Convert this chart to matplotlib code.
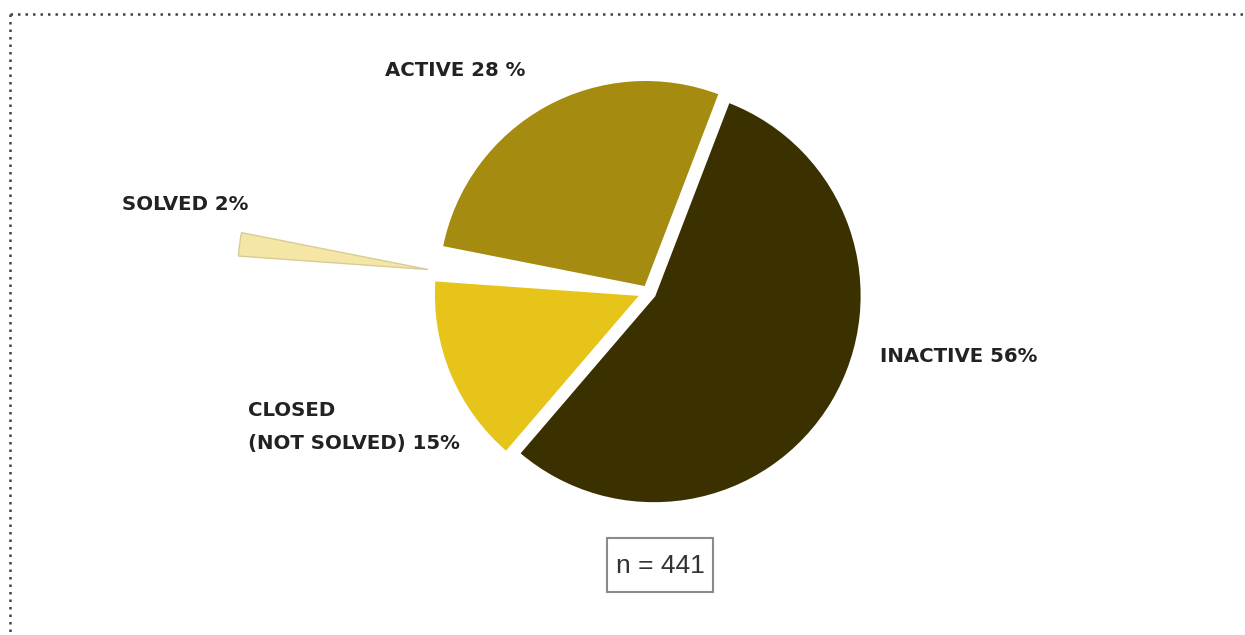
import numpy as np
import matplotlib.pyplot as plt
from matplotlib.patches import Rectangle

# case status breakdown
labels = ['INACTIVE', 'ACTIVE', 'SOLVED', 'CLOSED']
shares = [56, 28, 2, 15]
colors = ['#3b3100', '#a58b0f', '#f6e6a6', '#e6c41a']
# offsets in pixels (axes are in pixel units)
explode = [7, 5, 222, 7]
n_total = 441

W, H = 1245, 635
fig = plt.figure(figsize=(W / 100, H / 100), dpi=100)
ax = fig.add_axes([0, 0, 1, 1])

wedges, _ = ax.pie(shares, colors=colors, explode=explode, startangle=-130.6,
                   counterclock=True, radius=208, center=(648, H - 292),
                   wedgeprops=dict(edgecolor='white', linewidth=2))
# the pulled-out sliver is a bit shorter, with a thin outline
solved = wedges[2]
cx, cy = solved.center
solved.set_center((cx, cy - 7))
solved.set_radius(190)
solved.set_edgecolor('#d8cc96')
solved.set_linewidth(1.0)

ax.set_xlim(0, W)
ax.set_ylim(0, H)
ax.set_aspect('equal')
ax.axis('off')

font = dict(family='DejaVu Sans', fontweight='bold', fontsize=14.2, color='#222222')
ax.text(385, H - 70, 'ACTIVE 28 %', ha='left', va='center', **font)
ax.text(122, H - 205, 'SOLVED 2%', ha='left', va='center', **font)
ax.text(880, H - 356, 'INACTIVE 56%', ha='left', va='center', **font)
ax.text(248, H - 411, 'CLOSED', ha='left', va='center', **font)
ax.text(248, H - 444, '(NOT SOLVED) 15%', ha='left', va='center', **font)

# sample size box
ax.add_patch(Rectangle((607, H - 592), 106, 54, facecolor='none',
                       edgecolor='#8a8a8a', linewidth=1.5))
ax.text(660, H - 566, 'n = ' + str(n_total), ha='center', va='center',
        family='Liberation Sans', fontsize=19, color='#333333')

# dotted frame, top and left only
ax.plot([10, W], [H - 14, H - 14], color='#444444', linestyle=(0, (1, 2)), linewidth=1.8)
ax.plot([10, 10], [H - 14, 0], color='#444444', linestyle=(0, (1, 2)), linewidth=1.8)

fig.savefig('out.png', dpi=100)
